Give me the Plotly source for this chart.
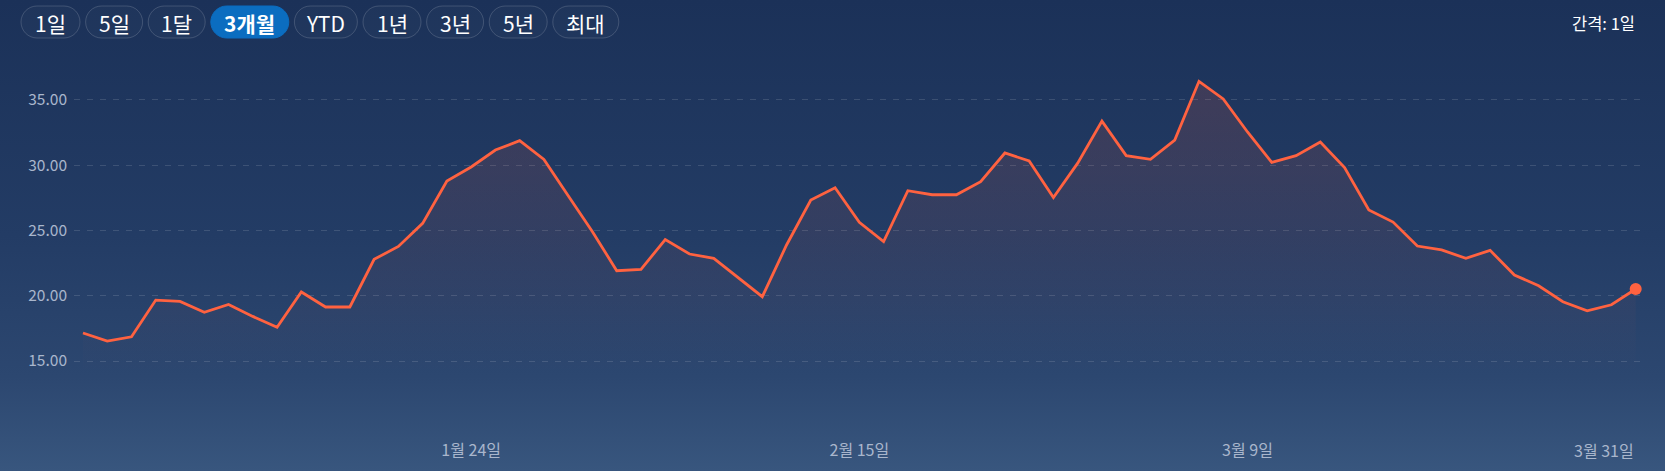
import base64
import pandas as pd
import plotly.graph_objects as go

# ---------------- data ----------------
DATES = [d.strftime("%Y-%m-%d") for d in pd.bdate_range("2021-12-31", "2022-03-31")]
PRICES = [
    17.15, 16.53, 16.86, 19.67, 19.57, 18.73, 19.34, 18.42, 17.58, 20.29,
    19.14, 19.14, 22.79, 23.78, 25.55, 28.79, 29.87, 31.17, 31.88, 30.45,
    27.66, 24.91, 21.92, 22.02, 24.31, 23.20, 22.87, 21.41, 19.93, 23.89,
    27.34, 28.28, 25.63, 24.15, 28.05, 27.74, 27.74, 28.74, 30.94, 30.33,
    27.52, 30.16, 33.38, 30.74, 30.45, 31.93, 36.43, 35.08, 32.55, 30.22,
    30.73, 31.78, 29.82, 26.57, 25.65, 23.81, 23.51, 22.87, 23.48, 21.59,
    20.77, 19.54, 18.85, 19.31, 20.52,
]
TICK_DATES = ["2022-01-24", "2022-02-15", "2022-03-09"]
TICK_LABELS = ["1월 24일", "2월 15일", "3월 9일"]
LAST_LABEL = "3월 31일"
Y_TICKS = [15, 20, 25, 30, 35]
BUTTONS = ["1일", "5일", "1달", "3개월", "YTD", "1년", "3년", "5년", "최대"]
SELECTED = "3개월"
INTERVAL_TEXT = "간격: 1일"

# ---------------- layout constants ----------------
W, H = 1665, 471
FONT = "Noto Sans CJK KR, Noto Sans, sans-serif"
LINE = "#ff6240"
AXIS_TXT = "#a9b6cc"
PLOT_L, PLOT_R = 74, 1642
PLOT_T, PLOT_B = 50, 437
Y_RANGE = [9.18, 38.83]
X_RANGE = [-0.37, 64.26]


def px_x(x):
    return x / W


def px_y(y):
    return 1 - y / H


# background gradient as an SVG image
svg = (
    '<svg xmlns="http://www.w3.org/2000/svg" width="100" height="100" preserveAspectRatio="none">'
    '<defs><linearGradient id="g" x1="0" y1="0" x2="0" y2="1">'
    '<stop offset="0" stop-color="rgb(27,49,88)"/>'
    '<stop offset="0.5" stop-color="rgb(35,60,101)"/>'
    '<stop offset="0.8" stop-color="rgb(44,71,112)"/>'
    '<stop offset="1" stop-color="rgb(56,86,126)"/>'
    '</linearGradient></defs>'
    '<rect width="100" height="100" fill="url(#g)"/></svg>'
)
svg_uri = "data:image/svg+xml;base64," + base64.b64encode(svg.encode()).decode()

fig = go.Figure()

fig.add_trace(go.Scatter(
    x=DATES, y=PRICES, mode="lines",
    line=dict(color=LINE, width=2.8),
    fill="tozeroy",
    fillgradient=dict(
        type="vertical",
        start=14, stop=max(PRICES),
        colorscale=[[0, "rgba(255,98,64,0)"], [1, "rgba(255,98,64,0.15)"]],
    ),
    hoverinfo="x+y", showlegend=False,
))
fig.add_trace(go.Scatter(
    x=[DATES[-1]], y=[PRICES[-1]], mode="markers",
    marker=dict(color=LINE, size=12),
    hoverinfo="skip", showlegend=False,
))

shapes = []
annotations = []

# range buttons (pills)
btn_widths = [59, 57, 57, 78, 63, 58, 57, 58, 66]
btn_gap = 5.6
bx = 21
by0, by1 = 6, 38
k = 0.5523
for label, bw in zip(BUTTONS, btn_widths):
    x0, x1 = bx, bx + bw
    r = (by1 - by0) / 2
    pts = [
        ("M", [(x0 + r, by0)]),
        ("L", [(x1 - r, by0)]),
        ("C", [(x1 - r + k * r, by0), (x1, by1 - r - k * r), (x1, by0 + r)]),
        ("C", [(x1, by0 + r + k * r), (x1 - r + k * r, by1), (x1 - r, by1)]),
        ("L", [(x0 + r, by1)]),
        ("C", [(x0 + r - k * r, by1), (x0, by0 + r + k * r), (x0, by0 + r)]),
        ("C", [(x0, by0 + r - k * r), (x0 + r - k * r, by0), (x0 + r, by0)]),
    ]
    path = ""
    for cmd, ps in pts:
        path += cmd + " ".join(f"{px_x(a):.5f},{px_y(b):.5f}" for a, b in ps) + " "
    path += "Z"
    sel = label == SELECTED
    shapes.append(dict(
        type="path", path=path, xref="paper", yref="paper",
        fillcolor="#0b6dc0" if sel else "rgba(255,255,255,0.02)",
        line=dict(color="#0b6dc0" if sel else "rgba(255,255,255,0.16)", width=1),
        layer="above",
    ))
    annotations.append(dict(
        x=px_x((x0 + x1) / 2), y=px_y((by0 + by1) / 2 + 1), xref="paper", yref="paper",
        text=f"<b>{label}</b>" if sel else label, showarrow=False,
        xanchor="center", yanchor="middle",
        font=dict(family=FONT, size=21, color="#ffffff"),
    ))
    bx = x1 + btn_gap

annotations.append(dict(
    x=px_x(1637), y=px_y(23), xref="paper", yref="paper",
    text=INTERVAL_TEXT, showarrow=False, xanchor="right", yanchor="middle",
    font=dict(family=FONT, size=16.5, color="#ffffff"),
))

# last date label, right-aligned on the last point
annotations.append(dict(
    x=DATES[-1], y=px_y(450), xref="x", yref="paper",
    text=LAST_LABEL, showarrow=False, xanchor="right", yanchor="middle",
    font=dict(family=FONT, size=16, color=AXIS_TXT),
))

fig.update_layout(
    width=W, height=H, autosize=False,
    margin=dict(l=0, r=0, t=0, b=0),
    paper_bgcolor="#1b3158", plot_bgcolor="rgba(0,0,0,0)",
    font=dict(family=FONT, color=AXIS_TXT, size=14),
    images=[dict(source=svg_uri, xref="paper", yref="paper", x=0, y=1,
                 sizex=1, sizey=1, sizing="stretch", layer="below")],
    shapes=shapes, annotations=annotations,
    xaxis=dict(
        type="category", domain=[px_x(PLOT_L), px_x(PLOT_R)], range=X_RANGE,
        tickmode="array", tickvals=TICK_DATES, ticktext=TICK_LABELS,
        showgrid=False, zeroline=False, showline=False, ticks="",
        tickfont=dict(family=FONT, size=16, color=AXIS_TXT),
        ticklabelstandoff=2,
        automargin=False,
    ),
    yaxis=dict(
        domain=[px_y(PLOT_B), px_y(PLOT_T)], range=Y_RANGE,
        tickmode="array", tickvals=Y_TICKS, tickformat=".2f",
        showgrid=True, gridcolor="rgba(255,255,255,0.13)", griddash="6px,7px", gridwidth=1,
        zeroline=False, showline=False, ticks="",
        tickfont=dict(family=FONT, size=15.5, color=AXIS_TXT),
        ticklabelstandoff=6,
        automargin=False,
    ),
    hovermode="x",
)

fig.write_html(
    "out.html",
    config={"displayModeBar": False},
    post_script="document.body.style.margin='0';document.body.style.padding='0';",
)
